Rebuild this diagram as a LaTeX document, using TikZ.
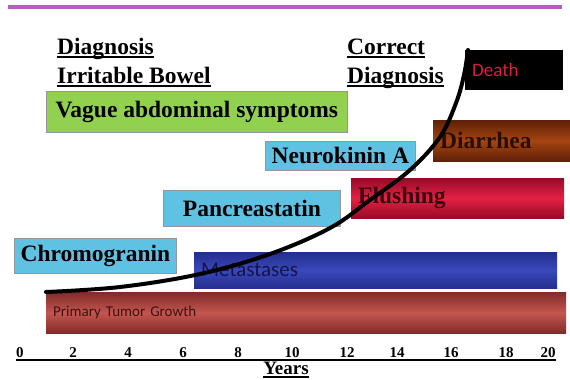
\documentclass[tikz,border=0pt]{standalone}
\usepackage{fontspec}
\setmainfont{Liberation Serif}
\newfontfamily\calibrifont{Carlito}
\usetikzlibrary{positioning}

\definecolor{lineviolet}{RGB}{180,95,190}
\definecolor{boxgray}{RGB}{150,150,150}
\definecolor{vaguegreen}{RGB}{146,208,80}
\definecolor{markerblue}{RGB}{96,194,226}
\definecolor{brownmid}{RGB}{165,68,18}
\definecolor{brownedge}{RGB}{95,32,6}
\definecolor{flushmid}{RGB}{228,32,68}
\definecolor{flushedge}{RGB}{150,10,40}
\definecolor{metamid}{RGB}{58,72,188}
\definecolor{metaedge}{RGB}{36,46,140}
\definecolor{tumormid}{RGB}{196,86,80}
\definecolor{tumoredge}{RGB}{128,44,42}
\definecolor{deathred}{RGB}{225,25,65}

\newcommand{\ulword}[1]{\setbox0=\hbox{#1}\rlap{\rule[-3.5pt]{\wd0}{1.6pt}}\box0}

\begin{document}
\begin{tikzpicture}[x=1pt,y=-1pt]
\tikzset{
  heading/.style={anchor=base west,inner sep=0pt,font=\fontsize{23.5}{28}\selectfont\bfseries},
  labelbox/.style={draw=boxgray,line width=0.8pt,inner sep=0pt,anchor=north west,
    font=\fontsize{23.5}{28}\selectfont\bfseries},
  bar/.style={anchor=north west,inner xsep=7pt,inner ysep=0pt,align=left},
  bigbar/.style={bar,font=\fontsize{23.5}{28}\selectfont\bfseries},
  smallbar/.style={bar,font=\calibrifont\fontsize{19}{22}\selectfont},
  tick/.style={anchor=base,inner sep=0pt,font=\fontsize{15}{18}\selectfont\bfseries},
  growth/.style={line width=4pt,line cap=round}
}
\useasboundingbox (0,0) rectangle (570,380);

% top rule
\coordinate (top_l) at (8,7);
\coordinate (top_r) at (562,7);
\draw[lineviolet,line width=3.5pt] (top_l) -- (top_r);

% headings
\node[heading] (h_diag) at (57,54) {\ulword{Diagnosis}};
\node[heading] (h_ibs) at (57,83) {\ulword{Irritable Bowel}};
\node[heading] (h_corr) at (347,54) {\ulword{Correct}};
\node[heading] (h_cdiag) at (347,83) {\ulword{Diagnosis}};

% markers and symptoms
\node[labelbox,fill=vaguegreen,minimum width=301pt,minimum height=41pt] (b_vague) at (46,91) {Vague abdominal symptoms};
\node[labelbox,fill=markerblue,minimum width=150pt,minimum height=29pt] (b_neuro) at (265,141) {Neurokinin A};
\node[labelbox,fill=markerblue,minimum width=177pt,minimum height=36pt] (b_panc) at (163,190) {Pancreastatin};
\node[labelbox,fill=markerblue,minimum width=162pt,minimum height=35pt] (b_chromo) at (14,238) {Chromogranin};

% disease bars
\node[smallbar,fill=black,text=deathred,text width=84pt,minimum height=40pt] (b_death) at (465,50) {Death};
\node[bigbar,top color=brownedge,bottom color=brownedge,middle color=brownmid,text={rgb,255:red,40;green,14;blue,4},
  text width=123pt,minimum height=41pt] (b_diarr) at (433,120) {Diarrhea};
\node[bigbar,top color=flushedge,bottom color=flushedge,middle color=flushmid,text={rgb,255:red,60;green,0;blue,15},
  text width=199pt,minimum height=40pt] (b_flush) at (351,178) {Flushing};
\node[smallbar,top color=metaedge,bottom color=metaedge,middle color=metamid,text={rgb,255:red,20;green,20;blue,70},
  font=\calibrifont\fontsize{21}{24}\selectfont,text width=349pt,minimum height=36pt] (b_meta) at (194,252) {Metastases};
\node[smallbar,top color=tumoredge,bottom color=tumoredge,middle color=tumormid,text={rgb,255:red,60;green,18;blue,18},
  font=\calibrifont\fontsize{15}{18}\selectfont,text width=506pt,minimum height=41pt] (b_prim) at (46,292) {Primary Tumor Growth};

% growth curve
\draw[growth] plot[smooth,tension=0.6] coordinates {(b_prim.north west) (120,287) (200,274) (270,254)
  (330,228) (370,200) (410,170) (440,137) (456,103) (464,75) (468,50)};

% time axis
\node[tick] (t_0) at (20,357) {0};
\node[tick] (t_2) at (73,357) {2};
\node[tick] (t_4) at (128,357) {4};
\node[tick] (t_6) at (183,357) {6};
\node[tick] (t_8) at (238,357) {8};
\node[tick] (t_10) at (292,357) {10};
\node[tick] (t_12) at (347,357) {12};
\node[tick] (t_14) at (397,357) {14};
\node[tick] (t_16) at (451,357) {16};
\node[tick] (t_18) at (506,357) {18};
\node[tick] (t_20) at (548,357) {20};
\coordinate (ax_l) at (16,360);
\coordinate (ax_r) at (556,360);
\draw[line width=1.5pt] (ax_l) -- (ax_r);
\node[tick,font=\fontsize{19}{22}\selectfont\bfseries] (years) at (286,374) {\ulword{Years}};
\end{tikzpicture}
\end{document}
